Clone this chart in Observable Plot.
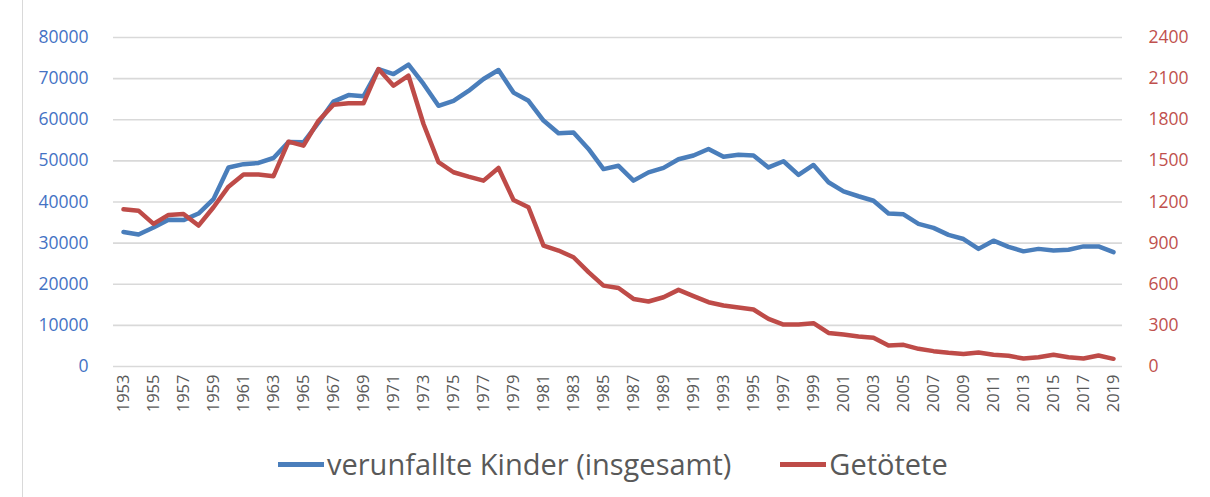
<!DOCTYPE html>
<html>
<head>
<meta charset="utf-8">
<script src="https://cdn.jsdelivr.net/npm/d3@7"></script>
<script src="https://cdn.jsdelivr.net/npm/@observablehq/plot@0.6"></script>
<style>
  html, body { margin: 0; padding: 0; background: #fff; }
  #wrap { position: relative; width: 1210px; height: 497px; overflow: hidden; font-family: "Open Sans", sans-serif; }
  #frame { position: absolute; left: 22px; top: 0; width: 1px; height: 497px; background: #d9d9d9; }
  #chart { position: absolute; left: 0; top: 0; }
  #legend { position: absolute; left: 278px; top: 445px; display: flex; align-items: center; font-size: 29px; color: #595959; white-space: nowrap; line-height: 38px; }
  .sw { display: inline-block; width: 46px; height: 5px; margin-right: 3px; }
  .item { display: flex; align-items: center; }
</style>
</head>
<body>
<div id="wrap">
  <div id="frame"></div>
  <div id="chart"></div>
  <div id="legend"></div>
</div>
<script>
const years = [1953,1954,1955,1956,1957,1958,1959,1960,1961,1962,1963,1964,1965,1966,1967,1968,1969,1970,1971,1972,1973,1974,1975,1976,1977,1978,1979,1980,1981,1982,1983,1984,1985,1986,1987,1988,1989,1990,1991,1992,1993,1994,1995,1996,1997,1998,1999,2000,2001,2002,2003,2004,2005,2006,2007,2008,2009,2010,2011,2012,2013,2014,2015,2016,2017,2018,2019];

const kinder = [32700,32100,33800,35700,35600,37200,40700,48400,49200,49500,50700,54600,54500,59300,64400,66000,65700,72300,71100,73400,68700,63400,64600,67000,69900,72100,66600,64600,59800,56700,56900,52900,48000,48800,45200,47200,48300,50400,51300,52900,51000,51500,51300,48400,49900,46600,49000,44800,42600,41400,40300,37200,37000,34700,33700,32000,31000,28600,30600,29100,28000,28600,28200,28400,29200,29200,27800];

const getoetete = [1147,1137,1040,1106,1113,1028,1162,1312,1400,1400,1388,1640,1611,1793,1910,1920,1920,2170,2048,2121,1769,1490,1417,1385,1356,1448,1215,1162,882,846,797,688,590,573,493,474,505,559,513,469,445,430,416,347,306,306,316,245,233,219,209,153,158,129,112,100,92,102,85,78,58,68,85,68,58,80,56];

const leftTicks = [0,10000,20000,30000,40000,50000,60000,70000,80000];
const rightTicks = [0,300,600,900,1200,1500,1800,2100,2400];
const xTickYears = [1953,1955,1957,1959,1961,1963,1965,1967,1969,1971,1973,1975,1977,1979,1981,1983,1985,1987,1989,1991,1993,1995,1997,1999,2001,2003,2005,2007,2009,2011,2013,2015,2017,2019];

const seriesNames = ["verunfallte Kinder (insgesamt)", "Getötete"];
const colors = ["#4a7ebb", "#be4b48"];

const k = 80000 / 2400; // right axis max maps onto left axis max
const data = years.map((y, i) => ({year: y, kinder: kinder[i], getoetete: getoetete[i]}));

const chart = Plot.plot({
  width: 1210,
  height: 430,
  marginLeft: 113,
  marginRight: 88,
  marginTop: 37,
  marginBottom: 64,
  style: {fontFamily: "Open Sans, sans-serif", background: "transparent"},
  x: {type: "point", domain: years, padding: 0.5},
  y: {domain: [0, 80000]},
  marks: [
    Plot.gridY(leftTicks, {stroke: "#d9d9d9", strokeOpacity: 1, strokeWidth: 1.6}),
    Plot.axisY(leftTicks, {anchor: "left", tickSize: 0, tickPadding: 25, fill: "#4472c4", fontSize: 17.5, label: null, tickFormat: d => String(d)}),
    Plot.axisY(rightTicks.map(v => v * k), {anchor: "right", tickSize: 0, tickPadding: 26, fill: "#c0504d", fontSize: 17.5, label: null, tickFormat: d => String(Math.round(d / k))}),
    Plot.axisX(xTickYears, {anchor: "bottom", tickSize: 0, tickPadding: 8, tickRotate: -90, fill: "#595959", fontSize: 16.5, label: null, tickFormat: d => String(d)}),
    Plot.line(data, {x: "year", y: "kinder", stroke: colors[0], strokeWidth: 4.5, strokeLinejoin: "round"}),
    Plot.line(data, {x: "year", y: d => d.getoetete * k, stroke: colors[1], strokeWidth: 4.5, strokeLinejoin: "round"})
  ]
});
document.getElementById("chart").appendChild(chart);

const legend = document.getElementById("legend");
seriesNames.forEach((name, i) => {
  const item = document.createElement("div");
  item.className = "item";
  if (i > 0) item.style.marginLeft = "49px";
  const sw = document.createElement("span");
  sw.className = "sw";
  sw.style.background = colors[i];
  const t = document.createElement("span");
  t.textContent = name;
  item.appendChild(sw);
  item.appendChild(t);
  legend.appendChild(item);
});
</script>
</body>
</html>
